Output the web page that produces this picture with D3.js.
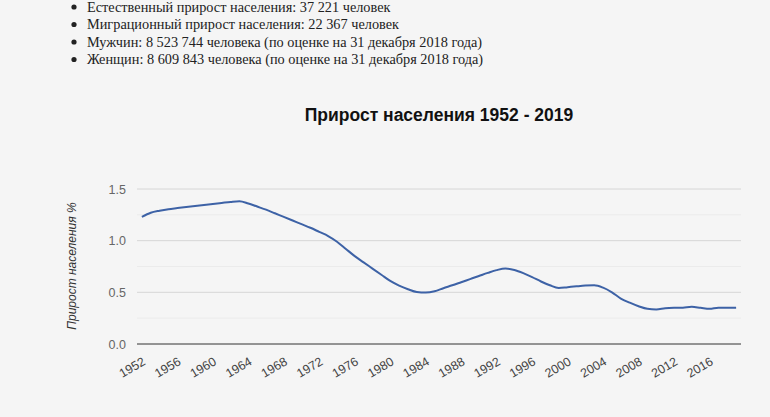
<!DOCTYPE html>
<html><head><meta charset="utf-8">
<script src="https://cdn.jsdelivr.net/npm/d3@7"></script>
<style>
html,body{margin:0;padding:0;background:#f5f5f5;}
svg{display:block;}
</style></head>
<body>
<svg id="c" width="770" height="417"></svg>
<script>
const bulletLines = [
  "Естественный прирост населения: 37 221 человек",
  "Миграционный прирост населения: 22 367 человек",
  "Мужчин: 8 523 744 человека (по оценке на 31 декабря 2018 года)",
  "Женщин: 8 609 843 человека (по оценке на 31 декабря 2018 года)"
];
const chartTitle = "Прирост населения 1952 - 2019";
const yAxisTitle = "Прирост населения %";
const years = d3.range(1952, 2020);
const growth = [
  1.23, 1.27, 1.29, 1.305, 1.315, 1.325, 1.335, 1.345, 1.355, 1.365,
  1.375, 1.382, 1.36, 1.33, 1.30, 1.265, 1.23, 1.195, 1.16, 1.125,
  1.085, 1.045, 0.99, 0.92, 0.85, 0.79, 0.73, 0.67, 0.61, 0.565,
  0.53, 0.503, 0.498, 0.51, 0.54, 0.568, 0.598, 0.628, 0.658, 0.688,
  0.715, 0.73, 0.716, 0.686, 0.648, 0.605, 0.568, 0.542, 0.55, 0.558,
  0.565, 0.568, 0.545, 0.50, 0.44, 0.40, 0.365, 0.34, 0.335, 0.345,
  0.35, 0.352, 0.36, 0.35, 0.34, 0.35, 0.35, 0.35
];
const yTicks = [0, 0.5, 1.0, 1.5];
const yMinor = [0.25, 0.75, 1.25];
const xTickYears = d3.range(1952, 2017, 4);

const svg = d3.select("#c");

// bullet list
const bl = svg.append("g").attr("font-family", "'Liberation Serif', 'Times New Roman', serif")
  .attr("font-size", 14.3).attr("fill", "#222");
bulletLines.forEach((t, i) => {
  const y = 11.5 + i * 17.5;
  bl.append("circle").attr("cx", 74).attr("cy", y - 4.5).attr("r", 2.6).attr("fill", "#222");
  bl.append("text").attr("x", 87).attr("y", y).text(t);
});

const x = d3.scaleLinear().domain([1951.45, 2019.55]).range([137, 741]);
const y = d3.scaleLinear().domain([0, 1.5]).range([344, 189]);

// title
svg.append("text").attr("x", 439).attr("y", 121).attr("text-anchor", "middle")
  .attr("font-family", "Arial, 'Liberation Sans', sans-serif").attr("font-weight", "bold")
  .attr("font-size", 17.5).attr("fill", "#111").text(chartTitle);

// minor gridlines
svg.append("g").selectAll("line").data(yMinor).join("line")
  .attr("x1", 137).attr("x2", 741).attr("y1", d => y(d)).attr("y2", d => y(d))
  .attr("stroke", "#ebebeb").attr("stroke-width", 1);
// major gridlines
svg.append("g").selectAll("line").data(yTicks.filter(d => d > 0)).join("line")
  .attr("x1", 137).attr("x2", 741).attr("y1", d => y(d)).attr("y2", d => y(d))
  .attr("stroke", "#d6d6d6").attr("stroke-width", 1);

// y axis labels via d3 axis
const yAxis = svg.append("g").attr("transform", "translate(137,0)")
  .call(d3.axisLeft(y).tickValues(yTicks).tickFormat(d3.format(".1f")).tickSize(0).tickPadding(11));
yAxis.select(".domain").remove();
yAxis.selectAll("text").attr("font-family", "Arial, 'Liberation Sans', sans-serif")
  .attr("font-size", 12.5).attr("fill", "#666");

// y axis title
svg.append("text").attr("transform", "translate(76,266) rotate(-90)").attr("text-anchor", "middle")
  .attr("font-family", "Arial, 'Liberation Sans', sans-serif").attr("font-style", "italic")
  .attr("font-size", 12).attr("fill", "#333").text(yAxisTitle);

// line
const data = years.map((yr, i) => ({yr, v: growth[i]}));
svg.append("path").datum(data)
  .attr("d", d3.line().x(d => x(d.yr)).y(d => y(d.v)).curve(d3.curveMonotoneX))
  .attr("fill", "none").attr("stroke", "#3d62a6").attr("stroke-width", 2);

// baseline
svg.append("line").attr("x1", 137).attr("x2", 741).attr("y1", y(0)).attr("y2", y(0))
  .attr("stroke", "#333").attr("stroke-width", 1);

// x axis labels
const xAxis = svg.append("g").attr("transform", `translate(0,${y(0)})`)
  .call(d3.axisBottom(x).tickValues(xTickYears).tickFormat(d3.format("d")).tickSize(0).tickPadding(0));
xAxis.select(".domain").remove();
xAxis.selectAll("text")
  .attr("font-family", "Arial, 'Liberation Sans', sans-serif").attr("font-size", 12.5).attr("fill", "#444")
  .attr("text-anchor", "end").attr("dy", null).attr("y", 0)
  .attr("transform", "translate(4,20) rotate(-30)");
</script>
</body></html>
